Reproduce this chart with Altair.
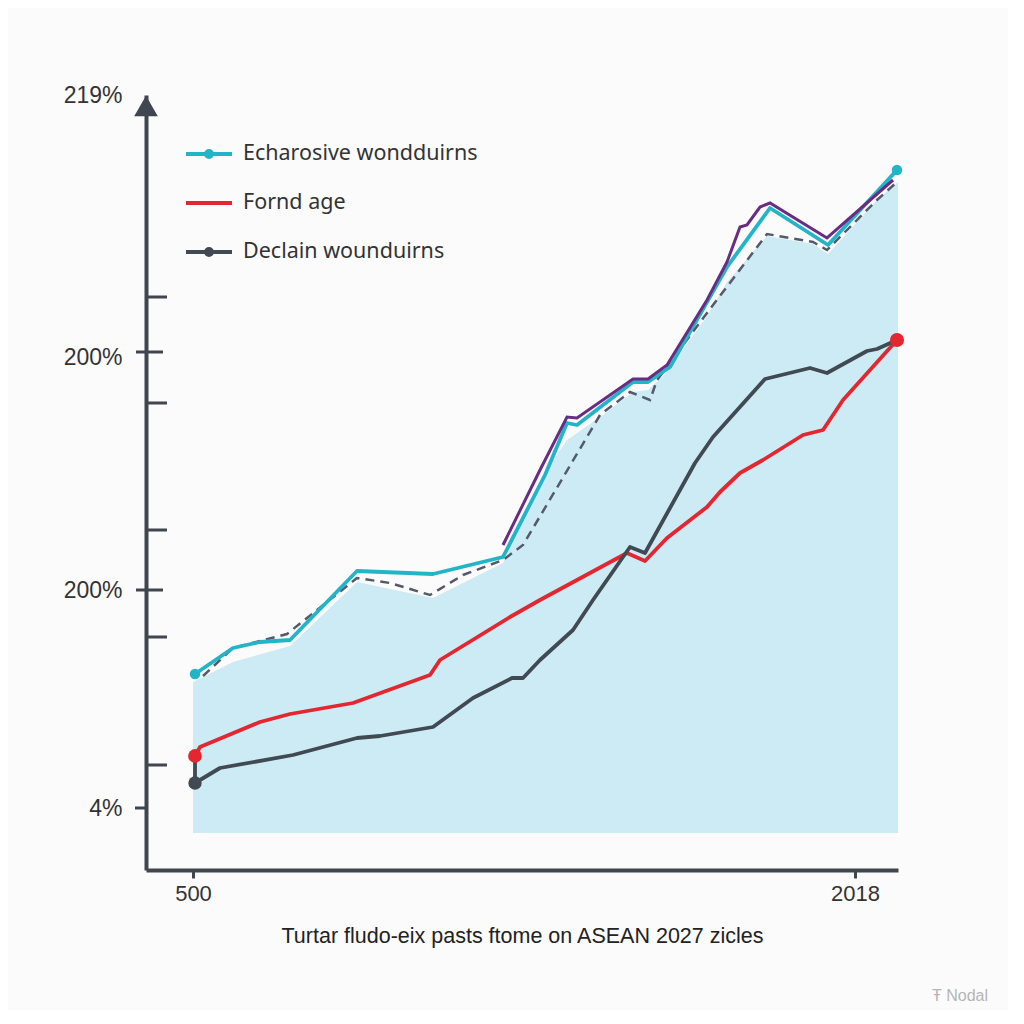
import altair as alt
import pandas as pd

# ---------------- data ----------------
SERIES = ["Echarosive wondduirns", "Fornd age", "Declain wounduirns"]
COLORS = ["#22b5c8", "#e3262f", "#414a53"]

CYAN_X = [9.8, 17.4, 22.8, 28.8, 42.2, 57.4, 71.4, 79.8, 84.2, 86.2, 97.4, 100.4, 104.8, 116.2, 124.8, 136.4, 150.2]
CYAN_Y = [39.2, 44.4, 45.6, 46.0, 59.8, 59.2, 62.6, 79.0, 89.4, 89.0, 97.6, 97.6, 100.6, 120.6, 132.4, 125.0, 140.0]

RED_X = [9.8, 10.8, 22.8, 28.8, 41.4, 56.8, 58.8, 72.8, 78.8, 96.2, 99.8, 104.2, 112.2, 114.8, 118.8, 123.4, 131.4, 135.4, 139.4, 150.2]
RED_Y = [22.8, 24.6, 29.6, 31.2, 33.4, 39.0, 42.0, 50.6, 54.0, 63.4, 61.8, 66.4, 72.6, 75.6, 79.4, 82.0, 87.0, 88.0, 94.0, 106.0]

DARK_X = [9.8, 9.8, 14.8, 29.4, 42.2, 46.8, 57.4, 65.4, 73.2, 75.4, 78.8, 85.4, 89.4, 96.8, 99.8, 109.8, 113.4, 123.8, 132.8, 136.2, 144.2, 146.2, 150.2]
DARK_Y = [22.6, 17.4, 20.4, 23.0, 26.4, 26.8, 28.6, 34.4, 38.4, 38.4, 42.0, 48.0, 54.0, 64.6, 63.4, 81.4, 86.6, 98.2, 100.4, 99.4, 103.8, 104.2, 106.0]

PURPLE_X = [71.4, 78.8, 84.2, 86.2, 97.4, 100.4, 104.2, 112.2, 116.2, 118.8, 120.2, 122.8, 124.8, 136.2, 149.4]
PURPLE_Y = [65.0, 80.0, 90.6, 90.4, 98.2, 98.2, 101.0, 114.0, 121.6, 128.6, 129.0, 132.6, 133.4, 126.4, 138.0]

DASH_X = [11.4, 17.4, 28.2, 42.2, 48.8, 56.8, 63.4, 71.4, 75.4, 90.8, 93.4, 96.8, 100.8, 102.2, 112.2, 124.2, 133.4, 136.2, 146.2, 150.2]
DASH_Y = [38.8, 44.4, 47.2, 58.4, 57.4, 55.0, 59.0, 62.0, 65.0, 91.0, 93.0, 95.6, 94.0, 98.0, 111.4, 127.2, 125.6, 124.0, 134.0, 137.6]

AREA_X = [9.4, 17.4, 28.8, 42.2, 57.4, 71.4, 79.8, 84.2, 90.8, 97.4, 100.4, 104.2, 112.2, 116.2, 124.2, 133.4, 136.4, 146.2, 150.4]
AREA_Y = [37.6, 41.6, 44.8, 57.6, 54.4, 61.4, 79.6, 86.0, 90.6, 95.6, 96.0, 99.6, 110.8, 117.6, 126.8, 125.2, 123.2, 134.0, 137.6]
AREA_BASE = 7.4

Y_LABEL_VALUES = [155, 102.6, 56.0, 12.4]
Y_LABELS = ["219%", "200%", "200%", "4%"]
MAJOR_TICKS = [103.6, 56.0]
LEFT_TICKS = [12.4]
MINOR_TICKS = [114.6, 93.4, 68.0, 46.6, 21.0]

X_LABEL_VALUES = [9.4, 141.8]
X_LABELS = ["500", "2018"]

TITLE = "Turtar fludo-eix pasts ftome on ASEAN 2027 zicles"
WATERMARK = "Ŧ Nodal"

# ---------------- frames ----------------
rows = []
for name, xs, ys in [(SERIES[0], CYAN_X, CYAN_Y), (SERIES[1], RED_X, RED_Y), (SERIES[2], DARK_X, DARK_Y)]:
    for i, (a, b) in enumerate(zip(xs, ys)):
        rows.append({"series": name, "order": i, "x": a, "y": b})
lines = pd.DataFrame(rows)

pts = pd.DataFrame([
    {"series": SERIES[0], "x": CYAN_X[0], "y": CYAN_Y[0], "s": 110},
    {"series": SERIES[0], "x": CYAN_X[-1], "y": CYAN_Y[-1], "s": 110},
    {"series": SERIES[1], "x": RED_X[0], "y": RED_Y[0], "s": 190},
    {"series": SERIES[1], "x": RED_X[-1], "y": RED_Y[-1], "s": 200},
    {"series": SERIES[2], "x": DARK_X[1], "y": DARK_Y[1], "s": 180},
])

purple = pd.DataFrame({"x": PURPLE_X, "y": PURPLE_Y, "order": range(len(PURPLE_X))})
dash = pd.DataFrame({"x": DASH_X, "y": DASH_Y, "order": range(len(DASH_X))})
area = pd.DataFrame({"x": AREA_X, "y": AREA_Y, "base": [AREA_BASE] * len(AREA_X)})
legend_df = pd.DataFrame({"label": SERIES, "x": [CYAN_X[0], RED_X[0], DARK_X[1]],
                          "y": [CYAN_Y[0], RED_Y[0], DARK_Y[1]]})

AXIS_COLOR = "#3f4650"
xscale = alt.Scale(domain=[0, 150.4], nice=False, zero=False)
yscale = alt.Scale(domain=[0, 155], nice=False, zero=False)

ylabel_expr = " : ".join(
    [f"abs(datum.value - {v}) < 0.01 ? '{l}'" for v, l in zip(Y_LABEL_VALUES, Y_LABELS)]
) + " : ''"
xlabel_expr = " : ".join(
    [f"abs(datum.value - {v}) < 0.01 ? '{l}'" for v, l in zip(X_LABEL_VALUES, X_LABELS)]
) + " : ''"

x_axis = alt.Axis(values=X_LABEL_VALUES, labelExpr=xlabel_expr, grid=False,
                  domainColor=AXIS_COLOR, domainWidth=4, tickColor=AXIS_COLOR,
                  tickWidth=3, tickSize=8, labelFontSize=22, labelColor="#333333",
                  labelFont="Liberation Sans", labelPadding=5, title=TITLE,
                  titleFont="Liberation Sans", titleFontSize=21.5, titleFontWeight="normal",
                  titleColor="#222222", titlePadding=21)
y_axis = alt.Axis(values=Y_LABEL_VALUES, labelExpr=ylabel_expr, grid=False,
                  domainColor=AXIS_COLOR, domainWidth=4, ticks=False, tickSize=0,
                  labelFontSize=23, labelColor="#333333", labelFont="Liberation Sans",
                  labelPadding=24, title=None)

base_x = alt.X("x:Q", scale=xscale, axis=x_axis)
base_y = alt.Y("y:Q", scale=yscale, axis=y_axis)

area_layer = alt.Chart(area).mark_area(color="#cdebf5", opacity=1).encode(
    x=base_x, y=base_y, y2="base:Q")

dash_layer = alt.Chart(dash).mark_line(color="#545a6a", strokeWidth=2.5, strokeDash=[9, 6]).encode(
    x="x:Q", y="y:Q", order="order:Q")

color_scale = alt.Scale(domain=SERIES, range=COLORS)

line_layer = alt.Chart(lines).mark_line(strokeWidth=3.8, strokeJoin="round").encode(
    x="x:Q", y="y:Q", color=alt.Color("series:N", scale=color_scale, legend=None),
    order="order:Q", detail="series:N")

purple_layer = alt.Chart(purple).mark_line(color="#6a2c83", strokeWidth=3).encode(
    x="x:Q", y="y:Q", order="order:Q")

point_layer = alt.Chart(pts).mark_circle(opacity=1).encode(
    x="x:Q", y="y:Q",
    color=alt.Color("series:N", scale=color_scale, legend=None),
    size=alt.Size("s:Q", scale=None, legend=None))

# legend-only layer: line symbol with a dot for two series, plain stroke for the other
DOT_PATH = "M-1,0H1M-0.13,0A0.13,0.13 0 1,1 0.13,0A0.13,0.13 0 1,1 -0.13,0"
legend = alt.Legend(orient="none", legendX=38, legendY=34, title=None,
                    symbolSize=2116, symbolStrokeWidth=4, symbolOpacity=1,
                    labelFontSize=21.5, labelFont="Noto Sans", labelColor="#333333",
                    labelOffset=9, labelLimit=500, rowPadding=13, padding=0,
                    direction="vertical")
legend_layer = alt.Chart(legend_df).mark_point(filled=False, opacity=0, strokeWidth=4).encode(
    x="x:Q", y="y:Q",
    color=alt.Color("label:N", scale=alt.Scale(domain=SERIES, range=COLORS), legend=legend),
    shape=alt.Shape("label:N", scale=alt.Scale(domain=SERIES, range=[DOT_PATH, "stroke", DOT_PATH]),
                    legend=legend))

ticks_major = alt.Chart(pd.DataFrame({"v": MAJOR_TICKS})).mark_rule(color=AXIS_COLOR, strokeWidth=3).encode(
    y=alt.Y("v:Q", scale=yscale), x=alt.value(-10), x2=alt.value(17))
ticks_left = alt.Chart(pd.DataFrame({"v": LEFT_TICKS})).mark_rule(color=AXIS_COLOR, strokeWidth=3).encode(
    y=alt.Y("v:Q", scale=yscale), x=alt.value(-11), x2=alt.value(0))
ticks_minor = alt.Chart(pd.DataFrame({"v": MINOR_TICKS})).mark_rule(color=AXIS_COLOR, strokeWidth=3).encode(
    y=alt.Y("v:Q", scale=yscale), x=alt.value(0), x2=alt.value(21))

arrow = alt.Chart(pd.DataFrame({"a": [1]})).mark_point(
    shape="triangle-up", filled=True, color=AXIS_COLOR, opacity=1, size=560).encode(
    x=alt.value(0), y=alt.value(11))

watermark = alt.Chart(pd.DataFrame({"t": [WATERMARK]})).mark_text(
    fontSize=16, color="#b5b5b5", font="Liberation Sans").encode(
    text="t:N", x=alt.value(814), y=alt.value(901))

chart = alt.layer(
    area_layer, dash_layer, line_layer, purple_layer, point_layer,
    ticks_major, ticks_left, ticks_minor, arrow, watermark, legend_layer
).resolve_scale(color="independent", shape="independent").resolve_legend(
    color="independent", shape="independent"
).properties(
    width=752, height=775,
    autosize=alt.AutoSizeParams(type="none"),
    padding={"left": 138, "top": 87, "right": 110, "bottom": 140},
    background="#fbfbfb",
).configure_view(stroke=None)

chart.save("out.html", embed_options={"renderer": "svg", "actions": False})
